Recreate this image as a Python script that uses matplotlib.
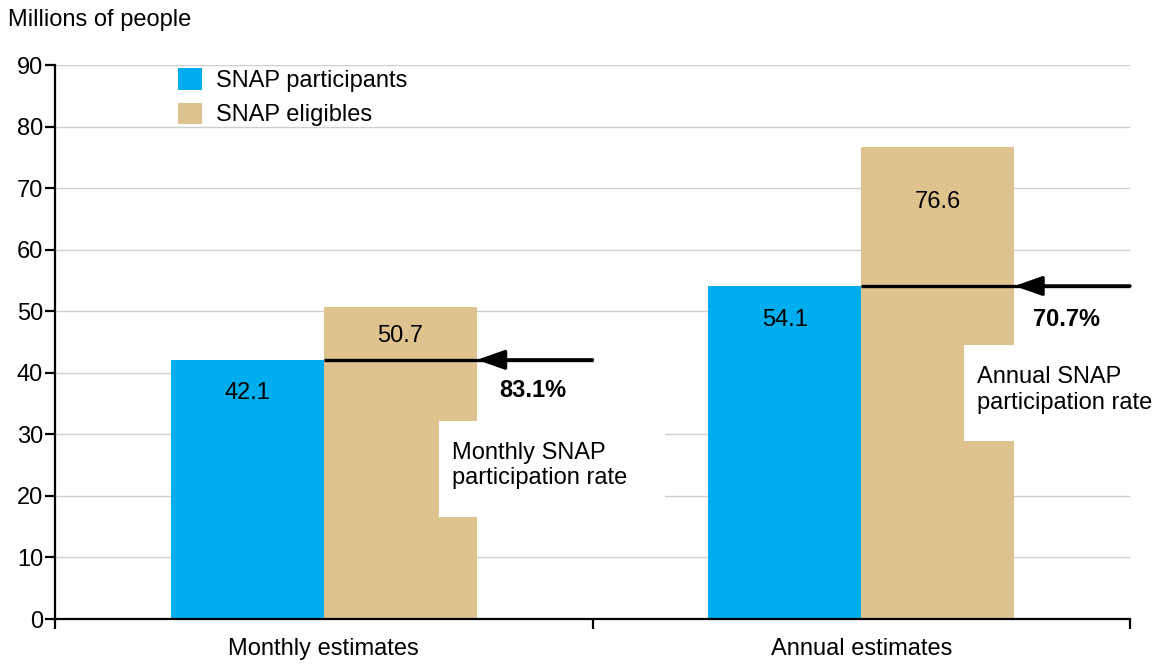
import matplotlib.pyplot as plt
from matplotlib.patches import Rectangle
import numpy as np

plt.rcParams['font.family'] = ['Liberation Sans', 'DejaVu Sans']

# data
categories = ['Monthly estimates', 'Annual estimates']
participants = [42.1, 54.1]
eligibles = [50.7, 76.6]
rates = ['83.1%', '70.7%']
rate_notes = ['Monthly SNAP\nparticipation rate', 'Annual SNAP\nparticipation rate']

blue = '#00AEEF'
tan = '#DEC38F'
grid_c = '#cfcfcf'
fs = 17

fig = plt.figure(figsize=(11.59, 6.64), dpi=100)
ax = fig.add_axes([55/1159, 1-619/664, 1075/1159, 554/664])

cx = np.array([0.5, 1.5])
w = 0.285
ax.bar(cx - w/2, participants, width=w, color=blue, zorder=2, label='SNAP participants')
ax.bar(cx + w/2, eligibles, width=w, color=tan, zorder=2, label='SNAP eligibles')

ax.set_xlim(0, 2)
ax.set_ylim(0, 90)
ax.set_yticks(np.arange(0, 91, 10))
ax.yaxis.grid(True, color=grid_c, lw=1.0)
ax.set_axisbelow(True)
ax.tick_params(axis='y', labelsize=fs, length=7, width=1.6, pad=1.5)

ax.set_xticks([0, 1, 2])
ax.set_xticklabels(['', '', ''])
ax.set_xticks(cx, minor=True)
ax.set_xticklabels(categories, minor=True, fontsize=fs)
ax.tick_params(axis='x', which='major', length=7, width=1.6)
ax.tick_params(axis='x', which='minor', length=0, pad=14)

for s in ['top', 'right']:
    ax.spines[s].set_visible(False)
ax.spines['left'].set_linewidth(1.6)
ax.spines['bottom'].set_linewidth(1.6)

# white boxes that hide grid / part of bars behind the notes
box_kw = dict(facecolor='white', edgecolor='none', zorder=3)
ax.add_patch(Rectangle((0.785, 33.5), 1.215 - 0.785, 7.5, **box_kw))
ax.add_patch(Rectangle((0.714, 16.6), 1.135 - 0.714, 32.2 - 16.6, **box_kw))
ax.add_patch(Rectangle((1.785, 44.5), 0.25, 51.5 - 44.5, clip_on=False, **box_kw))
ax.add_patch(Rectangle((1.691, 28.9), 0.35, 44.5 - 28.9, clip_on=False, **box_kw))

# value labels inside bars
p_off = [5.4, 5.5]
e_off = [4.7, 8.9]
for i in range(2):
    ax.text(cx[i] - w/2, participants[i] - p_off[i], f'{participants[i]:.1f}',
            ha='center', va='center', fontsize=fs, zorder=4)
    ax.text(cx[i] + w/2, eligibles[i] - e_off[i], f'{eligibles[i]:.1f}',
            ha='center', va='center', fontsize=fs, zorder=4)

# participation rate lines and arrows
for i in range(2):
    ax.plot([cx[i], cx[i] + 0.5], [participants[i], participants[i]],
            color='black', lw=2.4, zorder=5, solid_capstyle='butt', clip_on=False)
    ax.annotate('', xy=(cx[i] + w, participants[i]), xytext=(cx[i] + 0.5, participants[i]),
                arrowprops=dict(arrowstyle='-|>,head_length=0.85,head_width=0.3',
                                color='black', lw=2.4, shrinkA=0, shrinkB=0,
                                mutation_scale=20),
                zorder=6, annotation_clip=False)

rate_xy = [(0.889, 37.2), (1.882, 48.6)]
note_xy = [(0.739, 24.9), (1.715, 37.2)]
for i in range(2):
    ax.text(*rate_xy[i], rates[i], ha='center', va='center', fontsize=fs,
            fontweight='bold', zorder=4)
    ax.text(*note_xy[i], rate_notes[i], ha='left', va='center', fontsize=fs,
            linespacing=1.2, zorder=4)

ax.legend(loc='upper left', bbox_to_anchor=(0.1126, 0.998), frameon=False,
          fontsize=fs, handlelength=1.0, handleheight=1.0, handletextpad=0.6,
          labelspacing=0.45, borderpad=0.1, borderaxespad=0)

fig.text(8/1159, 1 - 20/664, 'Millions of people', fontsize=fs, ha='left', va='center')

fig.savefig('out.png', dpi=100)
